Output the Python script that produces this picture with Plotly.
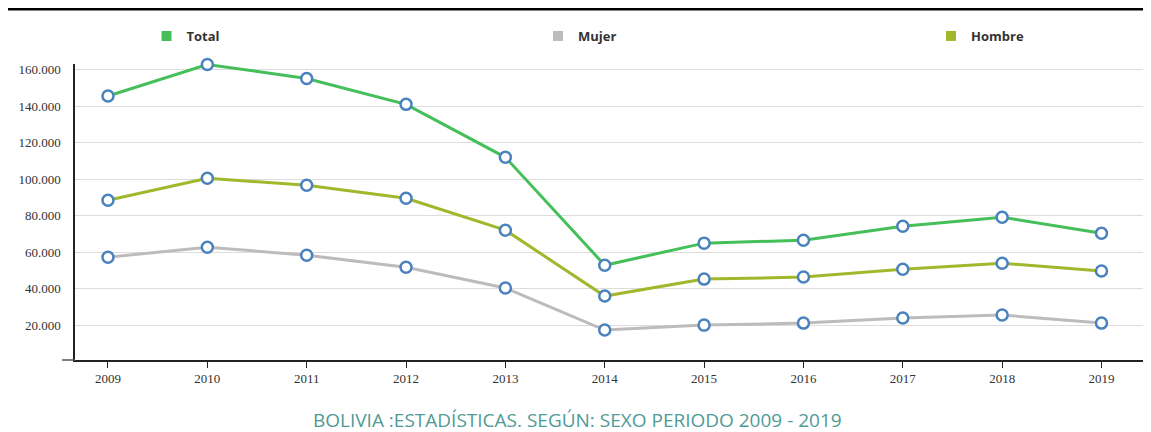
import plotly.graph_objects as go

years = [2009, 2010, 2011, 2012, 2013, 2014, 2015, 2016, 2017, 2018, 2019]
total = [145500, 162700, 155100, 140900, 111900, 52800, 64900, 66500, 74200, 79100, 70300]
mujer = [57200, 62700, 58300, 51700, 40300, 17300, 20000, 21100, 23900, 25500, 21100]
hombre = [88400, 100400, 96600, 89500, 72000, 35900, 45200, 46300, 50600, 53900, 49600]
y_ticks = [20000, 40000, 60000, 80000, 100000, 120000, 140000, 160000]
y_labels = ["20.000", "40.000", "60.000", "80.000", "100.000", "120.000", "140.000", "160.000"]

COLORS = {
    'total': '#45bf5a',
    'mujer': '#bdbbbb',
    'hombre': '#9fb82c',
    'marker': '#4a82bd',
    'title': '#4f9b97',
    'text': '#333333',
}

# page body has an 8px offset, so the figure is sized/margined to compensate
W, H = 1143, 424
ML, MR, MT, MB = 67, 5, 56, 72
PW, PH = W - ML - MR, H - MT - MB

fig = go.Figure()

series = [("Total", total, COLORS['total'], 'legend', 146.5),
          ("Mujer", mujer, COLORS['mujer'], 'legend2', 538),
          ("Hombre", hombre, COLORS['hombre'], 'legend3', 931)]

for name, vals, col, _, _ in series:
    fig.add_trace(go.Scatter(
        x=years, y=vals, name=name, mode='lines+markers',
        line=dict(color=col, width=3),
        marker=dict(size=11, color='white', line=dict(color=COLORS['marker'], width=2.5)),
        cliponaxis=False, showlegend=False
    ))

legend_font = dict(family="Open Sans, sans-serif", size=13, color='#333333', weight='bold')
legends = {}
for name, vals, col, leg, px_x in series:
    fig.add_trace(go.Scatter(
        x=[None], y=[None], name=name, mode='markers',
        marker=dict(symbol='square', size=10, color=col),
        showlegend=True, legend=leg
    ))
    legends[leg] = dict(orientation='h', x=(px_x - 75) / PW, xanchor='left',
                        y=1 + 28 / PH, yanchor='middle', font=legend_font,
                        bgcolor='rgba(0,0,0,0)', itemclick=False)

fig.update_layout(
    width=W, height=H,
    margin=dict(l=ML, r=MR, t=MT, b=MB),
    plot_bgcolor='white', paper_bgcolor='white',
    font=dict(family="Liberation Serif, serif", size=12, color=COLORS['text']),
    **legends,
    xaxis=dict(
        range=[2008.668, 2019.448], tickvals=years, ticktext=[str(y) for y in years],
        showgrid=False, zeroline=False, showline=True, linecolor='#222222', linewidth=1.5,
        ticks='outside', ticklen=6, tickcolor='#222222',
        tickfont=dict(family="Liberation Serif, serif", size=13, color='#333333'),
    ),
    yaxis=dict(
        range=[900, 163000], tickvals=y_ticks, ticktext=y_labels,
        showgrid=True, gridcolor='#dddddd', gridwidth=1, zeroline=False,
        showline=True, linecolor='#222222', linewidth=1.5, ticks='',
        ticklabelstandoff=10,
        tickfont=dict(family="Liberation Serif, serif", size=13, color='#333333'),
    ),
    shapes=[
        # black rule at the very top
        dict(type='line', xref='paper', yref='paper', x0=-ML / PW, x1=1 + MR / PW,
             y0=(PH + MT - 1) / PH, y1=(PH + MT - 1) / PH, line=dict(color='black', width=3)),
        # x axis line extending left of the y axis
        dict(type='line', xref='paper', yref='paper', x0=-13 / PW, x1=0,
             y0=0, y1=0, line=dict(color='#555555', width=1.5)),
    ],
    annotations=[
        dict(text="BOLIVIA :ESTADÍSTICAS. SEGÚN: SEXO PERIODO 2009 - 2019",
             xref='paper', yref='paper', x=(577 - 75) / PW, y=(352 - 412) / PH,
             xanchor='center', yanchor='middle', showarrow=False,
             font=dict(family="Open Sans, sans-serif", size=19, color=COLORS['title'])),
    ],
)

fig.write_html("out.html")
